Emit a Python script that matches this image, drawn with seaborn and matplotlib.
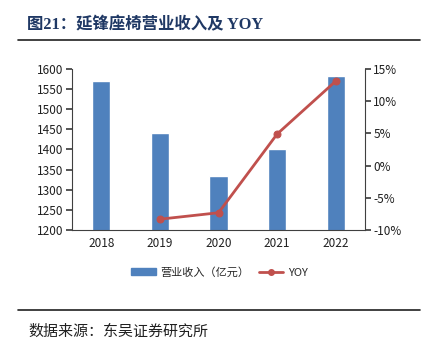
import numpy as np
import pandas as pd
import matplotlib
matplotlib.use("Agg")
import matplotlib.pyplot as plt
import seaborn as sns
from matplotlib.lines import Line2D
from matplotlib.patches import Patch
from matplotlib.ticker import FuncFormatter

# --- 데이터 ---
years = ["2018", "2019", "2020", "2021", "2022"]
revenue = [1570, 1440, 1335, 1400, 1583]          # 营业收入 (亿元)
yoy = [np.nan, -8.3, -7.3, 4.9, 13.1]             # YOY (%)

sns.set_theme(style="white")
plt.rcParams['font.family'] = ['Noto Sans CJK SC', 'DejaVu Sans']
plt.rcParams['axes.unicode_minus'] = False

bar_color = "#4F81BD"
line_color = "#C0504D"

fig = plt.figure(figsize=(4.26, 3.53), dpi=100)
ax = fig.add_axes([0.169, 0.348, 0.688, 0.457])

df = pd.DataFrame({"year": years, "revenue": revenue, "yoy": yoy})
df["pos"] = np.arange(len(df))

sns.barplot(data=df, x="year", y="revenue", color=bar_color, saturation=1,
            width=0.31, ax=ax, zorder=2)
ax.set_ylim(1200, 1600)
ax.set_yticks(np.arange(1200, 1601, 50))
ax.set_xlim(-0.5, len(years) - 0.5)
ax.set_xlabel("")
ax.set_ylabel("")

ax2 = ax.twinx()
d = df.dropna()
sns.lineplot(data=d, x="pos", y="yoy", color=line_color, linewidth=2,
             marker="o", markersize=5, markeredgecolor=line_color, ax=ax2, zorder=3)
ax2.set_ylim(-10, 15)
ax2.set_yticks(np.arange(-10, 16, 5))
ax2.yaxis.set_major_formatter(FuncFormatter(lambda v, p: f"{v:.0f}%"))
ax2.set_xlim(-0.5, len(years) - 0.5)
ax2.set_xlabel("")
ax2.set_ylabel("")

# 축 스타일
for a in (ax, ax2):
    a.spines["top"].set_visible(False)
    for s in ("left", "right", "bottom"):
        a.spines[s].set_color("#404040")
        a.spines[s].set_linewidth(0.8)
ax.spines["right"].set_visible(False)
ax2.spines["left"].set_visible(False)
ax2.spines["bottom"].set_visible(False)

ax.set_xticks(np.arange(len(years)))
ax.set_xticklabels(years)
ax.set_xticks(np.arange(-0.5, len(years)), minor=True)
ax.tick_params(axis="x", which="major", length=0, labelsize=8.5, pad=5, colors="#202020")
ax.tick_params(axis="x", which="minor", direction="in", length=4, color="#404040", width=0.8)
ax.tick_params(axis="y", direction="out", length=4, labelsize=8.5, colors="#202020", pad=2, left=True)
ax2.tick_params(axis="y", direction="out", length=4, labelsize=8.5, colors="#202020", pad=2, right=True)
ax.tick_params(axis="y", color="#404040")
ax2.tick_params(axis="y", color="#404040")

# 범례
handles = [Patch(facecolor=bar_color, edgecolor=bar_color),
           Line2D([0], [0], color=line_color, lw=2, marker="o", markersize=4)]
fig.legend(handles, ["营业收入（亿元）", "YOY"], loc="center", bbox_to_anchor=(0.515, 0.228),
           ncol=2, frameon=False, fontsize=8, handlelength=2.2, handleheight=0.6,
           columnspacing=0.9, handletextpad=0.4)

# 제목 및 출처
fig.text(0.064, 0.928, "图21：延锋座椅营业收入及 YOY", fontsize=11.8, fontweight="bold",
         color="#1F3864", va="center", ha="left",
         family=["Liberation Serif", "Noto Sans CJK SC"])
fig.add_artist(Line2D([0.043, 0.986], [0.887, 0.887], color="#202020", lw=1.2))
fig.add_artist(Line2D([0.043, 0.986], [0.122, 0.122], color="#202020", lw=1.2))
fig.text(0.066, 0.06, "数据来源：东吴证券研究所", fontsize=10.8, color="#202020",
         va="center", ha="left", fontweight="light")

fig.savefig("out.png", dpi=100, facecolor="white")
